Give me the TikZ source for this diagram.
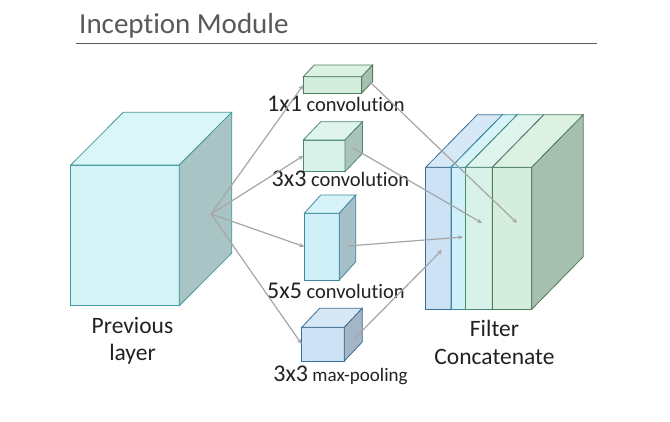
\documentclass[tikz,border=0pt]{standalone}
\usepackage{fontspec}
\setmainfont{Carlito}[Ligatures={NoCommon,NoContextual,NoRare}]
\usepackage{tikz}
\usetikzlibrary{positioning,arrows.meta}
\usepackage{xcolor}

\definecolor{titlegray}{HTML}{595959}
\definecolor{textgray}{HTML}{222222}
\definecolor{arrowgray}{HTML}{A6A6A6}

\definecolor{prevfront}{HTML}{D4F3F6}
\definecolor{prevtop}{HTML}{DAF6F8}
\definecolor{prevside}{HTML}{A9C4C5}
\definecolor{prevedge}{HTML}{449A9A}

\definecolor{onefront}{HTML}{D5EDDD}
\definecolor{onetop}{HTML}{DDF1E3}
\definecolor{oneside}{HTML}{A6BFAE}
\definecolor{oneedge}{HTML}{4F7D5E}

\definecolor{threefront}{HTML}{D8F1E9}
\definecolor{threetop}{HTML}{DFF4ED}
\definecolor{threeside}{HTML}{A9C3BA}
\definecolor{threeedge}{HTML}{4C8A78}

\definecolor{fivefront}{HTML}{CFEFF9}
\definecolor{fivetop}{HTML}{D7F3FA}
\definecolor{fiveside}{HTML}{A6BEC5}
\definecolor{fiveedge}{HTML}{3F8AA0}

\definecolor{poolfront}{HTML}{CDE2F4}
\definecolor{pooltop}{HTML}{D6E8F6}
\definecolor{poolside}{HTML}{A4B6C5}
\definecolor{pooledge}{HTML}{3D6E96}

\tikzset{
  face/.style={line width=0.8pt, inner sep=0pt, outer sep=0pt},
  arr/.style={arrowgray, line width=1.2pt, -{Stealth[length=5pt,width=4.5pt]}},
  lbl/.style={text=textgray, inner sep=0pt, font=\fontsize{20.5}{26}\selectfont},
}

% name, front top left (x,y), width, height, depth (dx,dy), colour prefix
\newcommand{\prism}[8]{%
  \node[face, fill=#8front, draw=#8edge, minimum width=#4pt, minimum height=#5pt, anchor=north west] (#1) at (#2,#3) {};
  \filldraw[face, fill=#8top, draw=#8edge] (#1.north west) -- ++(#6,-#7) -- ++(#4,0) -- (#1.north east) -- cycle;
  \filldraw[face, fill=#8side, draw=#8edge] (#1.north east) -- ++(#6,-#7) -- ++(0,#5) -- (#1.south east) -- cycle;
}
\newcommand{\bigsz}[1]{{\fontsize{24}{26}\selectfont #1}}

\begin{document}
\begin{tikzpicture}[x=1pt,y=-1pt]
\fill[white] (0,0) rectangle (670,421);
\useasboundingbox (0,0) rectangle (670,421);

% title
\node[anchor=base west, inner sep=0pt, text=titlegray, font=\fontsize{29}{30}\selectfont] (title) at (79,33) {Inception Module};
\draw[titlegray, line width=0.7pt] (76,43) -- (597,43);

% previous layer
\prism{prev}{70.7}{165}{108.6}{140.7}{52.5}{52.7}{prev}
\node[lbl, font=\fontsize{23.5}{27}\selectfont, align=center, anchor=base] (prevlbl) at (132.5,360.5) {Previous\\layer};

% branches
\prism{c1}{303.3}{76.7}{58.3}{16.6}{11}{11.7}{one}
\prism{c3}{303.3}{140}{41.7}{31.7}{17.5}{18.3}{three}
\prism{c5}{304.3}{213.3}{35}{66.7}{16.5}{18.3}{five}
\prism{pool}{301.7}{327.3}{42.6}{33.7}{18}{19}{pool}

\node[lbl, anchor=base] (c1lbl) at (336,111.5) {\bigsz{1x1} convolution};
\node[lbl, anchor=base] (c3lbl) at (340.5,186.7) {\bigsz{3x3} convolution};
\node[lbl, anchor=base] (c5lbl) at (336,298.3) {\bigsz{5x5} convolution};
\node[lbl, anchor=base, font=\fontsize{19}{26}\selectfont] (poollbl) at (340.5,381.7) {\bigsz{3x3} max-pooling};

% filter concatenation
\prism{fpool}{425.7}{167.3}{25.3}{142}{51.5}{52.5}{pool}
\prism{ffive}{451}{167.3}{14.7}{142}{51.5}{52.5}{five}
\prism{fthree}{465.7}{167.3}{26.6}{142}{51.5}{52.5}{three}
\prism{fone}{492.3}{167.3}{39.4}{142}{51.5}{52.5}{one}
\node[lbl, font=\fontsize{23.5}{28}\selectfont, align=center, anchor=base] (filterlbl) at (494.5,364) {Filter\\Concatenate};

% arrows
\coordinate (prevout) at (211,214);
\coordinate (out1) at (370,82);
\coordinate (out3) at (353,148);
\coordinate (out5) at (348,246);
\coordinate (outp) at (355,338);
\coordinate (in1) at (517,223);
\coordinate (in3) at (482,223);
\coordinate (in5) at (463,237);
\coordinate (inp) at (442,250);

\draw[arr] (prevout) -- (c1.west);
\draw[arr] (prevout) -- (c3.west);
\draw[arr] (prevout) -- (c5.west);
\draw[arr] (prevout) -- (pool.west);

\draw[arr] (out1) -- (in1);
\draw[arr] (out3) -- (in3);
\draw[arr] (out5) -- (in5);
\draw[arr] (outp) -- (inp);

\end{tikzpicture}
\end{document}
